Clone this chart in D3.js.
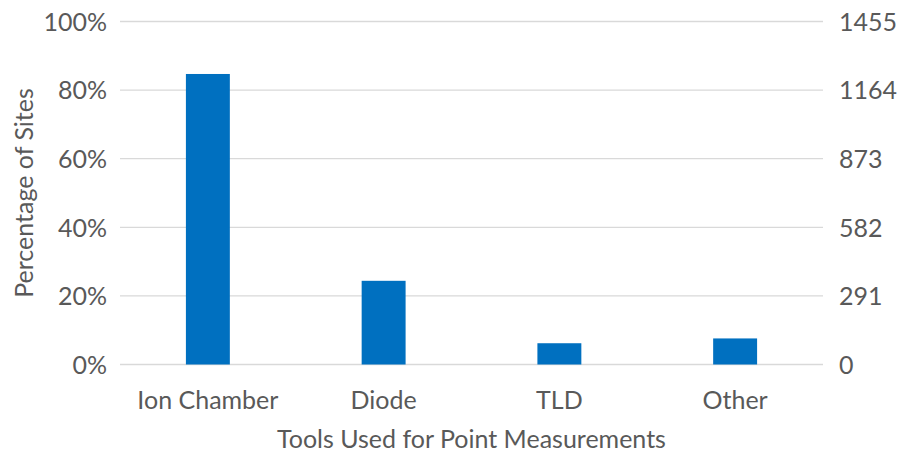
<!DOCTYPE html>
<html>
<head>
<meta charset="utf-8">
<script src="https://cdn.jsdelivr.net/npm/d3@7"></script>
<style>
  html, body { margin: 0; padding: 0; background: #fff; }
  svg { display: block; }
  text { font-family: Lato, "Open Sans", sans-serif; fill: #595959; }
</style>
</head>
<body>
<svg id="chart" width="908" height="454"></svg>
<script>
const categories = ["Ion Chamber", "Diode", "TLD", "Other"];
const percentSites = [0.847, 0.244, 0.062, 0.076];
const leftTicks = [0, 0.2, 0.4, 0.6, 0.8, 1.0];
const rightTicks = [0, 291, 582, 873, 1164, 1455];
const yTitle = "Percentage of Sites";
const xTitle = "Tools Used for Point Measurements";

const W = 908, H = 454;
const m = { left: 120, right: 85, top: 21.5, bottom: 89.5 };
const svg = d3.select("#chart");
const x0 = m.left, x1 = W - m.right, y0 = H - m.bottom, y1 = m.top;

const x = d3.scaleBand().domain(categories).range([x0, x1]).paddingInner(0.75).paddingOuter(0.375);
const y = d3.scaleLinear().domain([0, 1]).range([y0, y1]);
const y2 = d3.scaleLinear().domain([0, 1455]).range([y0, y1]);

const fs = 25;

// gridlines
svg.append("g").selectAll("line").data(leftTicks).join("line")
  .attr("x1", x0).attr("x2", x1)
  .attr("y1", d => y(d)).attr("y2", d => y(d))
  .attr("stroke", "#d9d9d9").attr("stroke-width", 1.3);

// bars
svg.append("g").selectAll("rect").data(percentSites).join("rect")
  .attr("x", (d, i) => x(categories[i]))
  .attr("width", x.bandwidth())
  .attr("y", d => y(d))
  .attr("height", d => y0 - y(d))
  .attr("fill", "#0070C0");

// left axis
const la = svg.append("g").attr("transform", `translate(${x0 - 13},0)`)
  .call(d3.axisLeft(y).tickValues(leftTicks).tickFormat(d3.format(".0%")).tickSize(0).tickPadding(0));
la.select(".domain").remove();
la.selectAll("text").attr("font-size", fs).attr("font-family", null).attr("dy", "0.35em");

// right axis
const ra = svg.append("g").attr("transform", `translate(${x1 + 16},0)`)
  .call(d3.axisRight(y2).tickValues(rightTicks).tickFormat(d3.format("d")).tickSize(0).tickPadding(0));
ra.select(".domain").remove();
ra.selectAll("text").attr("font-size", fs).attr("font-family", null).attr("dy", "0.35em");

// bottom axis
const ba = svg.append("g").attr("transform", `translate(0,${y0})`)
  .call(d3.axisBottom(x).tickSize(0).tickPadding(0));
ba.select(".domain").remove();
ba.selectAll("text").attr("font-size", fs).attr("font-family", null).attr("dy", null).attr("y", 44);

// titles
svg.append("text").attr("x", (x0 + x1) / 2).attr("y", 448)
  .attr("text-anchor", "middle").attr("font-size", fs).text(xTitle);
svg.append("text").attr("transform", `translate(33,${(y0 + y1) / 2}) rotate(-90)`)
  .attr("text-anchor", "middle").attr("font-size", fs).text(yTitle);
</script>
</body>
</html>
